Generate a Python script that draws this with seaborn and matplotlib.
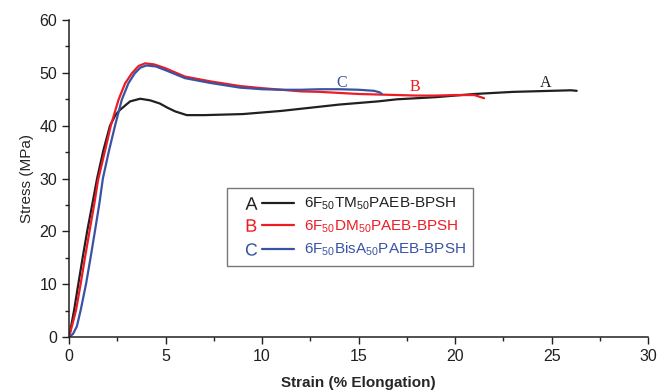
import numpy as np
import pandas as pd
import seaborn as sns
import matplotlib.pyplot as plt
from matplotlib.lines import Line2D
from matplotlib.legend_handler import HandlerTuple
from matplotlib.ticker import MultipleLocator

# stress-strain curves
strain_a = [0, 0.26, 0.48, 0.71, 0.95, 1.21, 1.45, 1.78, 2.12, 2.4, 2.64, 3.16, 3.68, 4.2,
            4.7, 5.1, 5.5, 6.1, 7, 8, 9, 10, 11, 12, 13, 14, 15, 16, 17, 18, 19, 20, 21,
            22, 23, 24, 25, 26, 26.3]
stress_a = [0, 5.1, 10.1, 15.2, 20.3, 25.3, 30, 35.4, 40, 42, 43, 44.6, 45.1, 44.8,
            44.2, 43.4, 42.7, 42.0, 42.0, 42.1, 42.2, 42.5, 42.8, 43.2, 43.6, 44, 44.3,
            44.6, 45, 45.2, 45.4, 45.7, 46, 46.2, 46.4, 46.5, 46.6, 46.7, 46.6]
strain_b = [0, 0.36, 0.6, 0.83, 1.07, 1.31, 1.5, 1.87, 2.16, 2.56, 2.9, 3.25, 3.6, 3.94,
            4.4, 4.97, 6.0, 7.3, 8.86, 10, 11, 12, 13, 14, 15, 16, 17, 18, 19, 20, 21, 21.5]
stress_b = [0, 5.1, 10.1, 15.2, 20.3, 25.3, 29.7, 35.4, 40, 44.9, 48, 49.9, 51.3, 51.8,
            51.6, 50.9, 49.3, 48.4, 47.5, 47.1, 46.8, 46.5, 46.4, 46.2, 46.0, 45.9, 45.8,
            45.7, 45.7, 45.8, 45.8, 45.2]
strain_c = [0, 0.2, 0.4, 0.6, 0.88, 1.12, 1.35, 1.57, 1.75, 2.05, 2.38, 2.73, 3.07, 3.4,
            3.7, 4.02, 4.5, 5, 6, 7.3, 8.86, 10, 11, 12, 13, 14, 15, 15.8, 16.1, 16.2]
stress_c = [0, 0.6, 2, 5.1, 10.1, 15.2, 20.3, 25.3, 30, 35, 40, 44.9, 48, 49.9,
            51, 51.4, 51.2, 50.5, 49.0, 48.1, 47.2, 46.9, 46.8, 46.8, 46.9, 46.9, 46.8,
            46.6, 46.3, 46.0]

letters = ['A', 'B', 'C']
names = ['6F$_{50}$TM$_{50}$PAEB-BPSH', '6F$_{50}$DM$_{50}$PAEB-BPSH',
         '6F$_{50}$BisA$_{50}$PAEB-BPSH']
colors = ['#231f20', '#ed1c24', '#3953a4']
# curve label positions (strain, stress)
tag_x = [24.7, 17.9, 14.1]
tag_y = [48.1, 47.3, 48.1]

df = pd.concat([
    pd.DataFrame({'strain': strain_a, 'stress': stress_a, 'sample': 'A'}),
    pd.DataFrame({'strain': strain_b, 'stress': stress_b, 'sample': 'B'}),
    pd.DataFrame({'strain': strain_c, 'stress': stress_c, 'sample': 'C'}),
])

sns.set_style('ticks')
plt.rcParams['font.family'] = ['Liberation Sans', 'DejaVu Sans']
plt.rcParams['mathtext.default'] = 'regular'

fig, ax = plt.subplots(figsize=(6.58, 3.92), dpi=100)
fig.subplots_adjust(left=0.105, right=0.985, bottom=0.14, top=0.949)

sns.lineplot(data=df, x='strain', y='stress', hue='sample', palette=colors,
             estimator=None, sort=False, legend=False, linewidth=1.6, ax=ax)

for t, x, y, c in zip(letters, tag_x, tag_y, colors):
    ax.text(x, y, t, color=c, fontsize=11.5, family='Liberation Serif',
            ha='center', va='center')

ax.set_xlim(0, 30)
ax.set_ylim(0, 60)
ax.xaxis.set_major_locator(MultipleLocator(5))
ax.xaxis.set_minor_locator(MultipleLocator(2.5))
ax.yaxis.set_major_locator(MultipleLocator(10))
ax.yaxis.set_minor_locator(MultipleLocator(5))
ax.tick_params(which='major', direction='out', length=5, width=1, labelsize=11.5,
               colors='#231f20')
ax.tick_params(which='minor', direction='out', length=3, width=1, colors='#231f20')
for s in ['left', 'bottom']:
    ax.spines[s].set_linewidth(1.1)
    ax.spines[s].set_color('#231f20')
sns.despine(ax=ax)

ax.set_xlabel('Strain (% Elongation)', fontsize=11, fontweight='bold', labelpad=9)
ax.set_ylabel('Stress (MPa)', fontsize=11)

handles = []
for t, c in zip(letters, colors):
    mark = Line2D([], [], linestyle='none', marker='$' + t + '$', markersize=9,
                  color=c, markeredgewidth=0)
    line = Line2D([], [], color=c, linewidth=1.6)
    handles.append((mark, line))

leg = ax.legend(handles, names, loc='lower left', bbox_to_anchor=(0.273, 0.224),
                borderaxespad=0,
                handler_map={tuple: HandlerTuple(ndivide=2, pad=-0.3)},
                handlelength=3.9, handletextpad=0.6, fontsize=11, numpoints=1,
                frameon=True, fancybox=False, edgecolor='#555555',
                borderpad=0.5, labelspacing=0.4)
leg.get_frame().set_linewidth(1.0)
for txt, c in zip(leg.get_texts(), colors):
    txt.set_color(c)

fig.savefig('out.png', dpi=100)
